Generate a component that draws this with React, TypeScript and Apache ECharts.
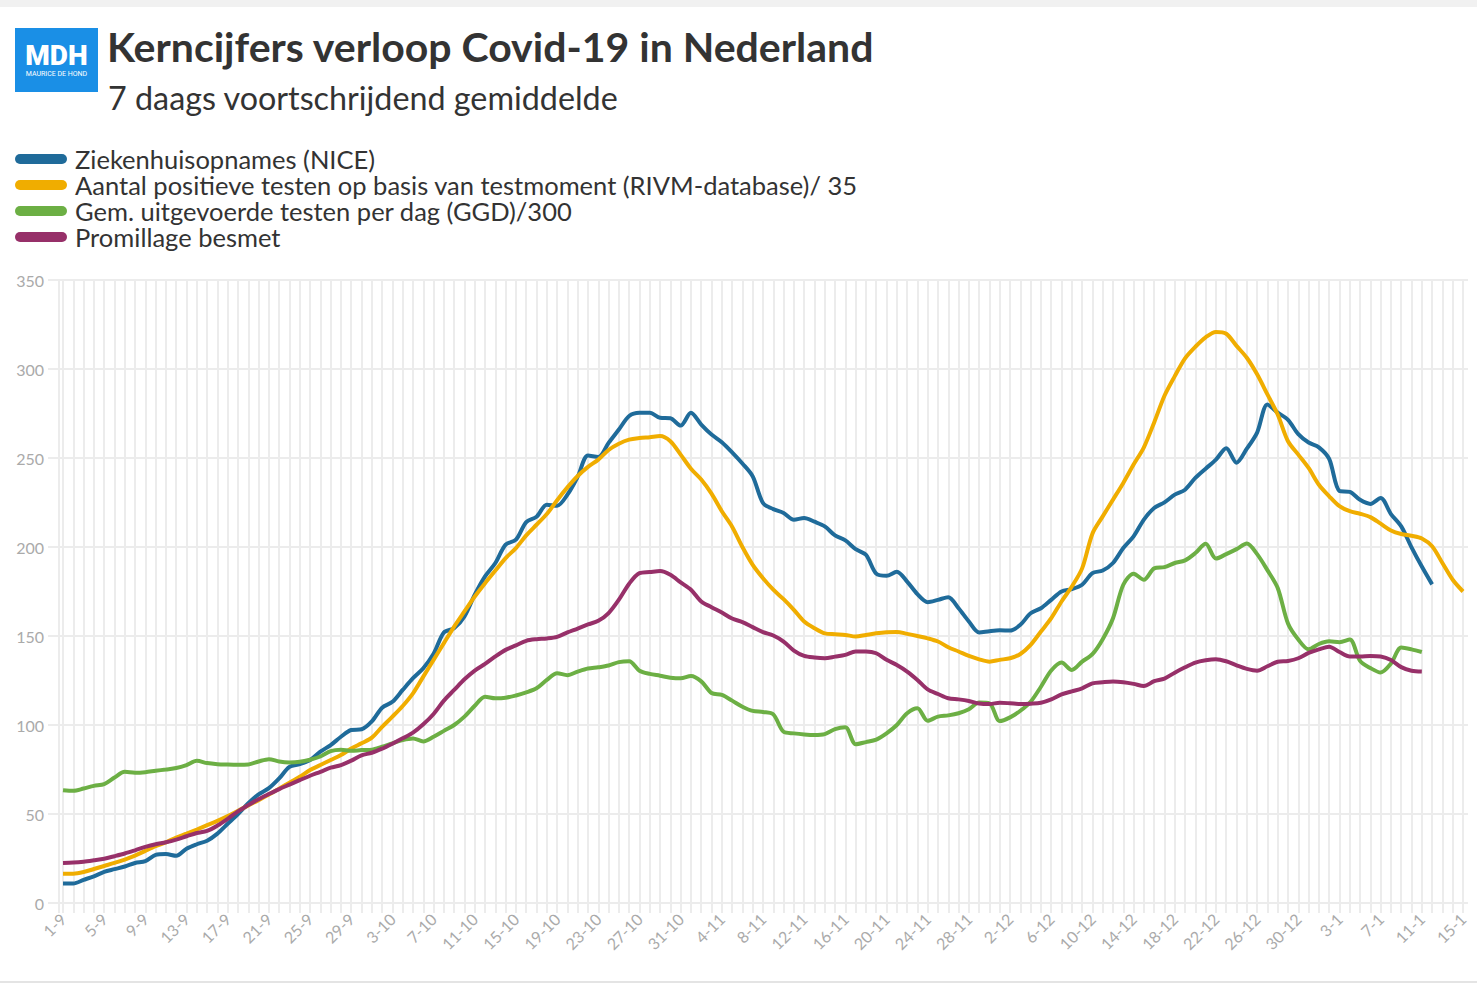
import React, { useEffect, useRef } from "react";
import * as echarts from "echarts";

// Category labels: 1 Sep 2020 .. 15 Jan 2021 (day-month)
const MONTH_SPANS: [number, number][] = [
  [9, 30],
  [10, 31],
  [11, 30],
  [12, 31],
  [1, 15],
];
const dates: string[] = [];
for (const [m, last] of MONTH_SPANS) for (let d = 1; d <= last; d++) dates.push(`${d}-${m}`);

const yTicks = [0, 50, 100, 150, 200, 250, 300, 350];

const SERIES_NAMES = [
  "Ziekenhuisopnames (NICE)",
  "Aantal positieve testen op basis van testmoment (RIVM-database)/ 35",
  "Gem. uitgevoerde testen per dag (GGD)/300",
  "Promillage besmet",
];

const ziekenhuis = [
  11, 11, 13, 15, 17.5, 19, 20.5, 22.5, 23.5, 27, 27.5, 26.5, 30.5, 33, 35, 39, 44.5, 50, 56, 61, 64.5, 70, 76.5, 78,
  80.3, 85, 88.7, 93.4, 97.2, 97.6, 102, 109.7, 113, 119.7, 126.3, 131.9, 140, 152, 154.4, 161, 173.2, 183.5, 191, 201.3, 204.1, 214, 217,
  223.8, 223.2, 229.4, 239.5, 251.4, 250.6, 258.5, 266, 273.6, 275.4, 275.4, 272.6, 272.3, 268.2, 275.4, 268.8, 263.2, 258.9, 253.2, 246.9, 239.7, 224.7, 221.3,
  219.1, 215.3, 216.3, 214.2, 211.6, 206.5, 203.7, 198.8, 195.6, 185, 183.8, 186.1, 180.6, 173.5, 169, 170.3, 171.8, 165.6, 158.1, 151.9, 152.7, 153.2,
  153.1, 156.3, 162.8, 165.6, 170.3, 175, 176.3, 178.8, 185.3, 186.8, 191, 199.4, 206, 215.4, 221.9, 225.1, 229.4, 232.2, 238.8, 244, 249.1, 255.5,
  247.4, 255.2, 264.3, 280.1, 275.5, 271.4, 263.4, 258.7, 256, 249.5, 231.5, 231, 226.5, 224.2, 227.5, 218.5, 211.6, 199.8, 189, 179,
  null, null, null,
];

const positief = [
  16.5, 16.5, 17.4, 19.1, 20.8, 22.5, 24.4, 26.6, 29.3, 31.9, 34.1, 36.8, 39, 41.3, 43.7, 46.1, 48.8, 51.8, 54.8, 57.8, 61, 64.2, 67.6, 70.9,
  74.7, 77.5, 80.3, 83.1, 86.8, 89.7, 92.9, 99, 104.7, 110.7, 117.8, 127.2, 136.6, 146, 155.3, 163.8, 172.2, 179.7, 186.8, 193.8, 199.4, 206.5, 212.5,
  218.5, 226.3, 233.5, 239.9, 245, 249.1, 254.5, 258, 260.3, 261.2, 261.7, 262.3, 259.4, 251.9, 244, 237.9, 230, 220.1, 211.4, 200, 190, 182.5, 176,
  170.7, 164.7, 158.1, 154.4, 151.5, 151, 150.6, 149.7, 150.6, 151.5, 152.1, 152.3, 151.2, 150, 148.7, 146.9, 143.7, 141.3, 138.8, 136.9, 135.6, 136.6,
  137.5, 139.9, 145, 152.5, 160, 169.4, 177.8, 188, 207.5, 217.2, 226.6, 236, 246.3, 256, 270, 285, 296, 306, 312.5, 317.8, 320.8, 319.8,
  313, 306.3, 297, 285.7, 274.4, 259.4, 251.9, 244.4, 235, 228.5, 222.9, 220.1, 218.7, 216.8, 213.1, 209.3, 207.3, 206.3, 204.8, 200.4, 191, 181.6, 175,
];

const testen = [
  63.4, 63, 64.3, 65.8, 66.8, 70.5, 73.7, 73.2, 73.5, 74.3, 75, 75.8, 77.5, 79.9, 78.6, 78, 77.8, 77.7, 77.8, 79.5, 80.8, 79.5, 79, 79.3,
  80.5, 82.3, 85.3, 86.1, 85.5, 85.9, 86.1, 87.8, 89.7, 91.5, 92.4, 90.8, 93.4, 96.7, 100, 104.7, 110.8, 115.9, 115, 115.3, 116.6, 118.3, 120.6,
  125.3, 129.1, 128, 130, 131.7, 132.4, 133.4, 135.3, 135.8, 130.5, 128.7, 127.7, 126.6, 126.2, 127.5, 124.5, 118, 116.9, 113.7, 110.3, 107.9, 107.3, 106,
  96.2, 95.3, 94.7, 94.4, 94.9, 97.7, 98.7, 89.2, 90.4, 91.8, 95.3, 100, 106.6, 109.4, 102.4, 104.7, 105.4, 106.6, 108.8, 112.6, 112.2, 102.2,
  104.3, 108, 113.1, 121.5, 130.6, 135.1, 130.9, 135.6, 139.8, 148.2, 160, 178.8, 185, 181.6, 188, 188.7, 191, 192.5, 196.6, 201.8, 193.5, 196,
  198.8, 202, 196, 187, 177, 157, 148, 142.5, 145.5, 147, 146.5, 148, 136, 132, 129.5, 134.5, 143.5, 142.5, 141,
  null, null, null, null,
];

const promillage = [
  22.5, 22.7, 23.2, 24, 24.9, 26.3, 27.8, 29.6, 31.5, 33, 34.1, 35.6, 37.5, 39.3, 40.5, 43.5, 47.3, 51.5, 55, 58.3, 61.2, 64, 66.5, 69,
  71.5, 73.7, 76, 77.5, 80, 83, 84.4, 86.7, 89.5, 92.5, 95.7, 100.4, 106.2, 113.7, 119.7, 125.7, 130.6, 134.3, 138.5, 142.2, 144.7, 147.3, 148.2,
  148.6, 149.5, 152, 154.2, 156.5, 158.5, 162.9, 170.4, 179.4, 185.3, 185.9, 186.5, 184.4, 180.1, 176, 169.4, 166.2, 163.2, 159.8, 157.8, 155, 152.2, 150.3,
  146.9, 141.8, 138.8, 137.9, 137.5, 138.4, 139.4, 141.3, 141.3, 140.3, 136.6, 133.7, 130, 125.3, 120, 117.4, 115, 114.4, 113.5, 112.1, 111.8, 112.5,
  112.2, 111.8, 112, 112.5, 114.4, 117.2, 118.9, 120.6, 123.4, 124, 124.4, 124, 123.1, 121.9, 124.6, 126.1, 129.4, 132.4, 135.1, 136.4, 137, 135.8,
  133.5, 131.5, 130.5, 133, 135.5, 136, 137.5, 140.5, 142.5, 144, 141, 138.5, 138.5, 138.8, 138.5, 136.5, 132.5, 130.5, 130,
  null, null, null, null,
];

const COLORS = ["#1f6b9a", "#f0ad00", "#6caf44", "#973069"];
const SERIES_DATA = [ziekenhuis, positief, testen, promillage];

const FONT = "Lato, 'Noto Sans', sans-serif";
const GRID = "#ececec";

export default function App() {
  const ref = useRef<HTMLDivElement>(null);

  useEffect(() => {
    document.body.style.margin = "0";
    if (!ref.current) return;
    const chart = echarts.init(ref.current, null, { renderer: "svg" });
    const option: any = {
      animation: false,
      backgroundColor: "#ffffff",
      textStyle: { fontFamily: FONT },
      title: [
        {
          text: "Kerncijfers verloop Covid-19 in Nederland",
          left: 107,
          top: 26,
          padding: 0,
          textStyle: { fontFamily: FONT, fontSize: 41, fontWeight: "bold", color: "#333333" },
        },
        {
          text: "7 daags voortschrijdend gemiddelde",
          left: 108,
          top: 81,
          padding: 0,
          textStyle: { fontFamily: FONT, fontSize: 32.3, fontWeight: "normal", color: "#333333" },
        },
      ],
      legend: {
        orient: "vertical",
        left: 15,
        top: 146,
        padding: 0,
        itemGap: 0,
        itemWidth: 52,
        itemHeight: 10,
        selectedMode: false,
        icon: "path://M5,0 L47,0 A5,5 0 0 1 47,10 L5,10 A5,5 0 0 1 5,0 Z",
        textStyle: { fontFamily: FONT, fontSize: 25.5, color: "#333333", lineHeight: 26, padding: [0, 0, 0, 3] },
        data: SERIES_NAMES,
      },
      grid: { left: 63, right: 14, top: 280, bottom: 80, containLabel: false },
      xAxis: {
        type: "category",
        data: dates,
        boundaryGap: false,
        axisLine: { show: false },
        axisTick: { show: true, interval: 0, length: 10, lineStyle: { color: GRID, width: 2 } },
        axisLabel: { interval: 3, rotate: 45, color: "#aaaaaa", fontSize: 16, margin: 13, fontFamily: FONT },
        splitLine: { show: true, interval: 0, lineStyle: { color: GRID, width: 2 } },
      },
      yAxis: [
        {
          type: "value",
          min: yTicks[0],
          max: yTicks[yTicks.length - 1],
          interval: 50,
          axisLine: { show: false },
          axisTick: { show: true, length: 15, lineStyle: { color: GRID, width: 2 } },
          axisLabel: { color: "#aaaaaa", fontSize: 16, margin: 19, fontFamily: FONT },
          splitLine: { show: true, lineStyle: { color: GRID, width: 2 } },
        },
        {
          type: "value",
          position: "right",
          min: yTicks[0],
          max: yTicks[yTicks.length - 1],
          interval: 50,
          axisLine: { show: false },
          axisTick: { show: true, length: 5, lineStyle: { color: GRID, width: 2 } },
          axisLabel: { show: false },
          splitLine: { show: false },
        },
      ],
      series: SERIES_NAMES.map((name, i) => ({
        name,
        type: "line",
        data: SERIES_DATA[i],
        yAxisIndex: 0,
        smooth: 0.3,
        symbol: "none",
        connectNulls: false,
        lineStyle: { width: 4, color: COLORS[i] },
        itemStyle: { color: COLORS[i] },
        z: 3 + i,
      })),
      graphic: [
        { type: "rect", left: 0, top: 0, shape: { width: 1477, height: 7 }, style: { fill: "#f1f1f1" }, silent: true },
        { type: "rect", left: 0, top: 981, shape: { width: 1477, height: 2 }, style: { fill: "#e4e4e4" }, silent: true },
        {
          type: "line",
          shape: { x1: 59, y1: 280, x2: 59, y2: 913 },
          style: { stroke: GRID, lineWidth: 2 },
          silent: true,
          z: -1,
        },
        {
          type: "group",
          left: 15,
          top: 28,
          children: [
            { type: "rect", shape: { x: 0, y: 0, width: 83, height: 64 }, style: { fill: "#1a8fe6" } },
            {
              type: "text",
              x: 41.5,
              y: 27,
              style: {
                text: "MDH",
                fill: "#ffffff",
                fontSize: 28,
                lineHeight: 22,
                fontWeight: 900,
                fontFamily: "Roboto, Arial, sans-serif",
                align: "center",
                verticalAlign: "middle",
              },
            },
            {
              type: "text",
              x: 41.5,
              y: 46,
              style: {
                text: "MAURICE DE HOND",
                fill: "#ffffff",
                fontSize: 7,
                lineHeight: 7,
                fontFamily: "Roboto, Arial, sans-serif",
                align: "center",
                verticalAlign: "middle",
              },
            },
          ],
        },
      ],
    };
    chart.setOption(option);
    return () => chart.dispose();
  }, []);

  return (
    <div
      ref={ref}
      style={{ position: "absolute", left: 0, top: 0, width: 1477, height: 983, background: "#fff" }}
    />
  );
}
